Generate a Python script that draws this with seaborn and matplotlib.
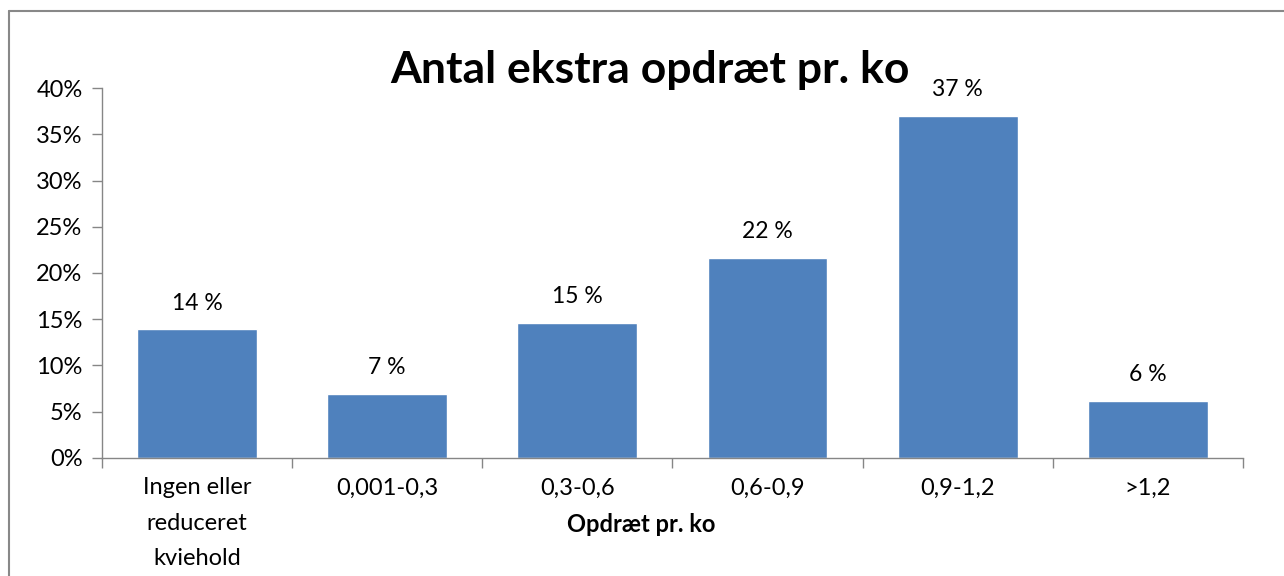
import pandas as pd
import seaborn as sns
import matplotlib.pyplot as plt
from matplotlib.lines import Line2D
from matplotlib.ticker import FuncFormatter

kategorier = ['Ingen eller\nreduceret\nkviehold', '0,001-0,3', '0,3-0,6', '0,6-0,9', '0,9-1,2', '>1,2']
andel = [13.9, 6.9, 14.6, 21.6, 37.0, 6.2]
etiketter = ['14 %', '7 %', '15 %', '22 %', '37 %', '6 %']

df = pd.DataFrame({'kategori': kategorier, 'andel': andel})

sns.set_theme(style='white')
plt.rcParams['font.family'] = ['Lato', 'DejaVu Sans']
plt.rcParams['text.color'] = 'black'
plt.rcParams['axes.labelcolor'] = 'black'
plt.rcParams['xtick.labelcolor'] = 'black'
plt.rcParams['ytick.labelcolor'] = 'black'

fig = plt.figure(figsize=(12.84, 5.76), dpi=100)
ax = fig.add_axes([0.0794, 0.2049, 0.8886, 0.6423])

sns.barplot(data=df, x='kategori', y='andel', color='#4F81BD', saturation=1,
            width=0.63, ax=ax)

# etiketter over søjlerne
for i, (v, t) in enumerate(zip(andel, etiketter)):
    ax.text(i, v + 1.7, t, ha='center', va='bottom', fontsize=16.5, color='black')

ax.set_ylim(0, 40)
ax.set_xlim(-0.5, len(kategorier) - 0.5)
ax.set_yticks(range(0, 41, 5))
ax.yaxis.set_major_formatter(FuncFormatter(lambda v, p: f'{int(v)}%'))
ax.tick_params(axis='y', labelsize=17, length=7, width=1, color='#868686',
               labelcolor='black', direction='out', left=True, pad=7)
# ticks mellem kategorierne
ax.set_xticks([i - 0.5 for i in range(len(kategorier) + 1)], minor=False)
ax.set_xticklabels([])
ax.set_xticks(range(len(kategorier)), minor=True)
ax.set_xticklabels(kategorier, minor=True, fontsize=17, linespacing=1.85, color='black')
ax.tick_params(axis='x', which='major', length=7, width=1, color='#868686',
               direction='out', bottom=True)
ax.tick_params(axis='x', which='minor', length=0, pad=14)

for s in ['top', 'right']:
    ax.spines[s].set_visible(False)
for s in ['left', 'bottom']:
    ax.spines[s].set_color('#868686')
    ax.spines[s].set_linewidth(1)

ax.set_xlabel('Opdræt pr. ko', fontsize=17, fontweight='bold', color='black')
ax.xaxis.label.set_va('center')
ax.xaxis.set_label_coords(0.473, -0.181)
ax.set_ylabel('')

fig.text(0.506, 0.878, 'Antal ekstra opdræt pr. ko', ha='center', va='center',
         fontsize=32, fontweight='bold', color='black')

# ramme om diagrammet (kun top og venstre synlig)
fig.add_artist(Line2D([9 / 1284, 1], [1 - 11 / 576, 1 - 11 / 576],
                      transform=fig.transFigure, color='#888888', lw=1.5))
fig.add_artist(Line2D([9 / 1284, 9 / 1284], [0, 1 - 11 / 576],
                      transform=fig.transFigure, color='#888888', lw=1.5))

fig.savefig('out.png', dpi=100, facecolor='white')
